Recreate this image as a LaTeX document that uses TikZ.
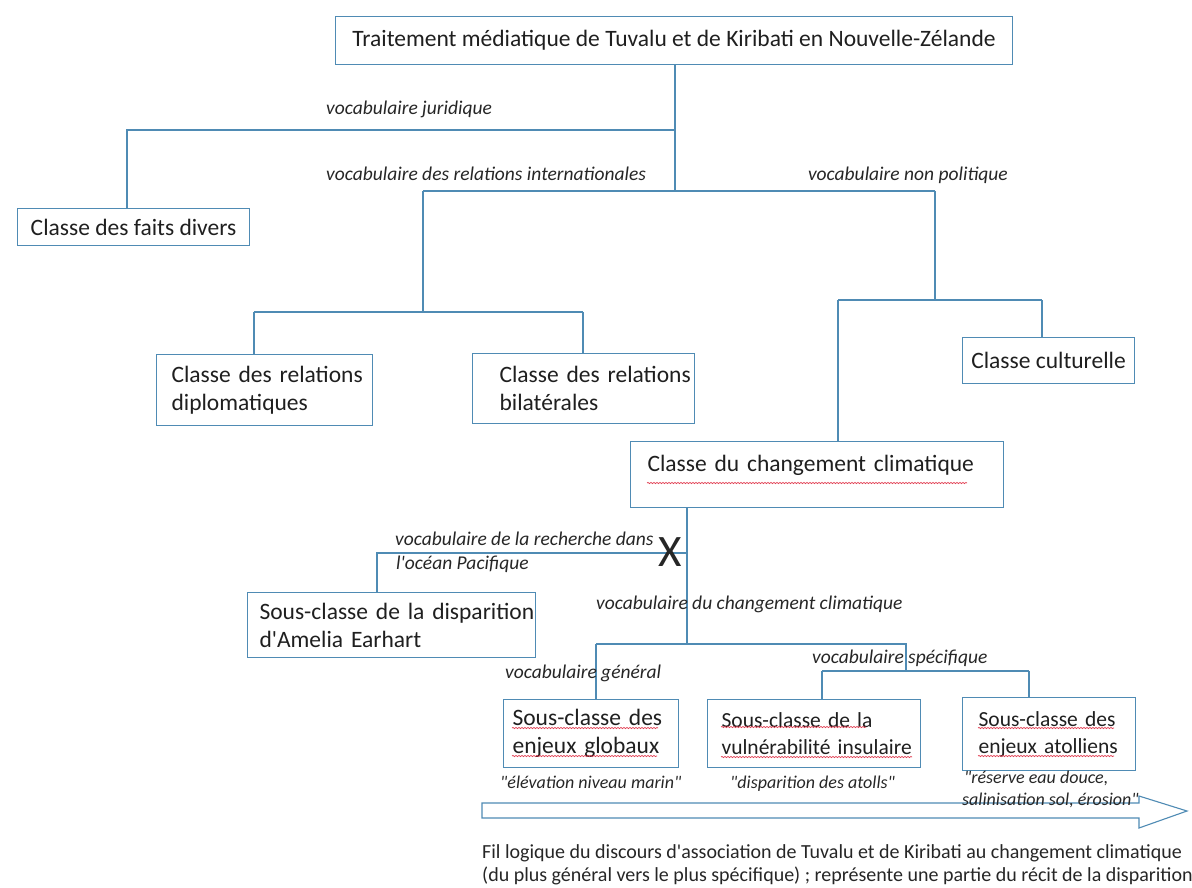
\documentclass[tikz,border=0pt]{standalone}
\usepackage{fontspec}
\setmainfont{Carlito}[Ligatures=TeXOff]
\usepackage{tikz}
\usetikzlibrary{decorations.pathmorphing}
\definecolor{trait}{RGB}{79,139,180}
\definecolor{souligne}{RGB}{225,60,80}

\begin{document}
\begin{tikzpicture}[x=1pt,y=-1pt,
  box/.style={draw=trait, line width=1.1pt, anchor=north west, align=left, inner ysep=0pt,
    text=black!88, font=\fontsize{23.5}{28}\selectfont,
    execute at begin node={\hyphenpenalty=10000\exhyphenpenalty=10000}},
  petit/.style={font=\fontsize{21.5}{27}\selectfont},
  lien/.style={draw=trait, line width=1.1pt},
  voc/.style={anchor=base west, inner sep=0pt, text=black!85, font=\fontsize{19.5}{23}\selectfont\itshape},
  cite/.style={voc, font=\fontsize{18}{22}\selectfont\itshape},
  vague/.style={souligne, line width=0.7pt, decorate, decoration={snake, amplitude=0.6pt, segment length=3pt}}]
  \useasboundingbox (0,0) rectangle (1192,888);

  \node[box, align=center, minimum width=677pt, minimum height=48pt] (titre) at (335,16) {Traitement médiatique de Tuvalu et de Kiribati en Nouvelle-Zélande};
  \node[box, align=center, minimum width=232pt, minimum height=37pt] (faits) at (17,208) {Classe des faits divers};
  \node[box, text width=186pt, inner xsep=15pt, minimum height=71pt] (diplo) at (156,354) {Classe~des~relations\\diplomatiques};
  \node[box, text width=168pt, inner xsep=27pt, minimum height=70pt] (bilat) at (472,353) {Classe~des~relations\\bilatérales};
  \node[box, align=center, minimum width=172pt, minimum height=46pt] (cult) at (962,337) {Classe culturelle};
  \node[box, text width=339pt, inner xsep=17pt, text height=30pt, text depth=36pt] (climat) at (630,441) {Classe du changement climatique};
  \node[box, text width=264pt, inner xsep=12pt, minimum height=65pt] (earhart) at (247,592) {Sous-classe~de~la~disparition\\d'Amelia~Earhart};
  \node[box, text width=157pt, inner xsep=9pt, minimum height=68pt] (globaux) at (503,699) {Sous-classe~des\\enjeux~globaux};
  \node[box, petit, text width=185pt, inner xsep=14pt, minimum height=68pt] (insul) at (707,699) {Sous-classe~de~la\\vulnérabilité~insulaire};
  \node[box, petit, text width=141pt, inner xsep=16pt, minimum height=73pt] (atoll) at (962,697) {Sous-classe~des\\enjeux~atolliens};

  \coordinate (j1) at (675,130);
  \coordinate (j2) at (675,191);
  \coordinate (j3) at (423,312);
  \coordinate (j4) at (935,300);
  \coordinate (j5) at (687,553);
  \coordinate (j6) at (687,644);
  \coordinate (j7) at (906,671);
  \coordinate (b-faits) at (127,130);
  \coordinate (b-diplo) at (254,312);
  \coordinate (b-bilat) at (583,312);
  \coordinate (b-climat) at (838,300);
  \coordinate (b-cult) at (1042,300);
  \coordinate (b-earhart) at (377,553);
  \coordinate (b-globaux) at (596,644);
  \coordinate (b-insul) at (822,671);
  \coordinate (b-atoll) at (1029,671);

  \draw[lien] (titre.south -| j2) -- (j2);
  \draw[lien] (j1) -- (b-faits) -- (b-faits |- faits.north);
  \draw[lien] (j3 |- j2) -- (j4 |- j2);
  \draw[lien] (j3 |- j2) -- (j3);
  \draw[lien] (b-diplo) -- (b-bilat);
  \draw[lien] (b-diplo) -- (b-diplo |- diplo.north);
  \draw[lien] (b-bilat) -- (b-bilat |- bilat.north);
  \draw[lien] (j4 |- j2) -- (j4);
  \draw[lien] (b-climat) -- (b-cult);
  \draw[lien] (b-climat) -- (b-climat |- climat.north);
  \draw[lien] (b-cult) -- (b-cult |- cult.north);
  \draw[lien] (climat.south -| j6) -- (j6);
  \draw[lien] (j5) -- (b-earhart) -- (b-earhart |- earhart.north);
  \draw[lien] (b-globaux) -- (j7 |- j6) -- (j7);
  \draw[lien] (b-globaux) -- (b-globaux |- globaux.north);
  \draw[lien] (b-insul) -- (b-atoll);
  \draw[lien] (b-insul) -- (b-insul |- insul.north);
  \draw[lien] (b-atoll) -- (b-atoll |- atoll.north);

  \node[inner sep=0pt, text=black!85, font=\fontsize{45}{45}\selectfont] (croix) at (670,552) {X};

  \node[voc] (v-jur) at (326,115) {vocabulaire juridique};
  \node[voc] (v-rel) at (326,181) {vocabulaire des relations internationales};
  \node[voc, anchor=base east] (v-nonpol) at (1008,181) {vocabulaire non politique};
  \node[voc] (v-rech) at (395,545) {vocabulaire de la recherche dans};
  \node[voc] (v-pac) at (396,569) {l'océan Pacifique};
  \node[voc] (v-clim) at (596,609) {vocabulaire du changement climatique};
  \node[voc] (v-gen) at (505,678) {vocabulaire général};
  \node[voc] (v-spec) at (812,663) {vocabulaire spécifique};

  \draw[lien, fill=white] (482,803) -- (1139,803) -- (1139,796) -- (1187,811) -- (1139,828) -- (1139,818) -- (482,818) -- cycle;

  \node[cite] (c-glob) at (500,788) {"élévation niveau marin"};
  \node[cite] (c-insul) at (730,788) {"disparition des atolls"};
  \node[cite] (c-atoll1) at (964,783) {"réserve eau douce,};
  \node[cite] (c-atoll2) at (962,805) {salinisation sol, érosion"};

  \node[voc, font=\fontsize{20}{23}\selectfont] (fil1) at (482,858) {Fil logique du discours d'association de Tuvalu et de Kiribati au changement climatique};
  \node[voc, font=\fontsize{20}{23}\selectfont] (fil2) at (482,881) {(du plus général vers le plus spécifique) ; représente une partie du récit de la disparition};

  \draw[vague] (647,483) -- (967,483);
  \draw[vague] (512,728) -- (658,728);
  \draw[vague] (512,756) -- (657,756);
  \draw[vague] (721,727) -- (866,727);
  \draw[vague] (721,757) -- (912,757);
  \draw[vague] (978,728) -- (1114,728);
  \draw[vague] (978,756) -- (1114,756);
\end{tikzpicture}
\end{document}
